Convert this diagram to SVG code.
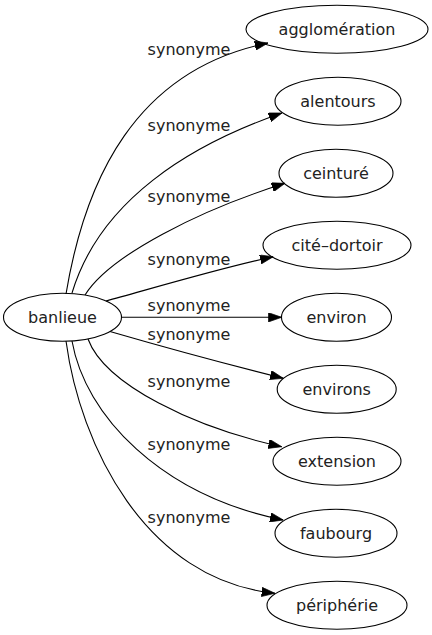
<svg xmlns="http://www.w3.org/2000/svg" width="432" height="635" viewBox="0 0 432 635">
<style>
  .node ellipse { fill: none; stroke: #000; stroke-width: 1.1; }
  text { font-family: "DejaVu Sans", "Liberation Sans", sans-serif; font-size: 16px; fill: #222; text-anchor: middle; }
  .edges path { fill: none; stroke: #000; stroke-width: 1.1; marker-end: url(#arrow); }
</style>
<defs>
  <marker id="arrow" viewBox="0 0 10 7" markerWidth="13.3" markerHeight="9.3" refX="10" refY="3.5" markerUnits="userSpaceOnUse" orient="auto">
    <path d="M0,0 L10,3.5 L0,7 z" fill="#000" stroke="#000" stroke-width="0.5"/>
  </marker>
</defs>
<rect width="432" height="635" fill="#fff"/>
<g class="edges" id="edges">
  <path d="M66,294 C85,180 135,70 268,43"/>
  <path d="M72,293 C100,200 190,145 282,113"/>
  <path d="M85,295 C110,255 200,210 285,183.3"/>
  <path d="M106,301 C150,289 220,268 273.3,256.7"/>
  <path d="M121.5,317.3 L281.7,317.3"/>
  <path d="M110,331.5 C160,346 230,365 283.3,378.3"/>
  <path d="M88,339 C105,385 195,428 281.7,446.7"/>
  <path d="M72,341 C85,415 160,495 283.3,520"/>
  <path d="M66,341 C80,445 145,580 275,593.3"/>
</g>
<g id="edge-labels">
  <text x="189" y="55">synonyme</text>
  <text x="189" y="131">synonyme</text>
  <text x="189" y="202">synonyme</text>
  <text x="189" y="265">synonyme</text>
  <text x="189" y="311">synonyme</text>
  <text x="189" y="340">synonyme</text>
  <text x="189" y="387">synonyme</text>
  <text x="189" y="450">synonyme</text>
  <text x="189" y="523">synonyme</text>
</g>
<g class="node" id="node-banlieue"><ellipse cx="62.5" cy="317.3" rx="59" ry="24"/><text x="62.5" y="322.8">banlieue</text></g>
<g class="node" id="node-agglomeration"><ellipse cx="337" cy="29.3" rx="91" ry="24"/><text x="337" y="34.8">agglomération</text></g>
<g class="node" id="node-alentours"><ellipse cx="338" cy="101.3" rx="63" ry="24"/><text x="338" y="106.8">alentours</text></g>
<g class="node" id="node-ceinture"><ellipse cx="336" cy="173.3" rx="57" ry="24"/><text x="336" y="178.8">ceinturé</text></g>
<g class="node" id="node-cite-dortoir"><ellipse cx="337" cy="245.3" rx="74" ry="24"/><text x="337" y="250.8">cité–dortoir</text></g>
<g class="node" id="node-environ"><ellipse cx="336.5" cy="317.3" rx="55" ry="24"/><text x="336.5" y="322.8">environ</text></g>
<g class="node" id="node-environs"><ellipse cx="336.7" cy="389.3" rx="59.5" ry="24"/><text x="336.7" y="394.8">environs</text></g>
<g class="node" id="node-extension"><ellipse cx="337" cy="461.3" rx="64" ry="24"/><text x="337" y="466.8">extension</text></g>
<g class="node" id="node-faubourg"><ellipse cx="336" cy="533.3" rx="61" ry="24"/><text x="336" y="538.8">faubourg</text></g>
<g class="node" id="node-peripherie"><ellipse cx="337" cy="605.3" rx="70" ry="24"/><text x="337" y="610.8">périphérie</text></g>
</svg>
